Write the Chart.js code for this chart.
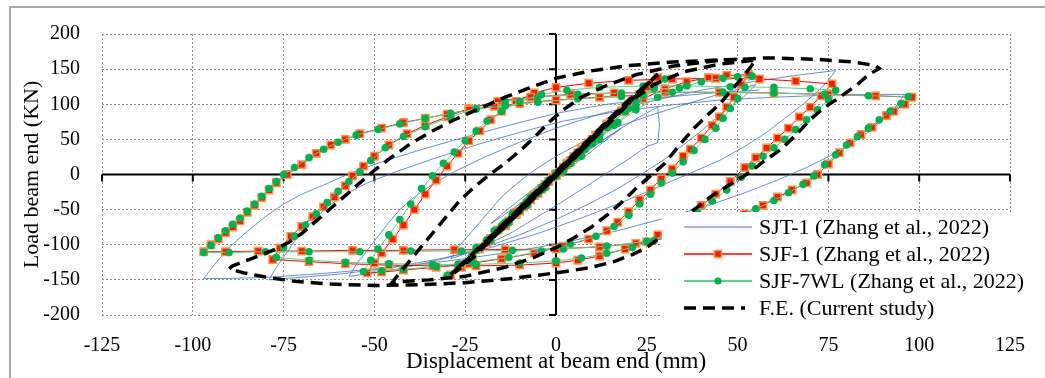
<!DOCTYPE html>
<html>
<head>
<meta charset="utf-8">
<script src="https://cdn.jsdelivr.net/npm/chart.js@4.4.1/dist/chart.umd.min.js"></script>
<style>
  body { margin: 0; background: #fff; }
  canvas { display: block; }
</style>
</head>
<body>
<canvas id="hysteresis" width="1045" height="378"></canvas>
<script>
// axis ticks
const xTicks = [-125, -100, -75, -50, -25, 0, 25, 50, 75, 100, 125];
const yTicks = [-200, -150, -100, -50, 0, 50, 100, 150, 200];

const seriesNames = [
  'SJT-1 (Zhang et al., 2022)',
  'SJF-1 (Zhang et al., 2022)',
  'SJF-7WL (Zhang et al., 2022)',
  'F.E. (Current study)'
];

// SJT-1 test (displacement mm, load kN)
const sjt1 = [
  [0,0],[4,15],[8,30],[6,22],[2,6],[0,-2],[-4,-16],[-8,-31],[-6,-22],[-2,-6],[0,1],
  [5,18],[10,38],[15,56],[18,66],[15,54],[10,34],[5,14],[1,-2],[-5,-22],[-10,-42],[-15,-60],[-18,-70],[-15,-57],[-10,-36],[-5,-16],[0,2],
  [6,24],[12,46],[18,66],[23,82],[28,96],[28.5,70],[28,45],[25,40],[20,22],[14,2],[8,-18],[2,-38],[-5,-60],[-12,-82],[-19,-100],[-25,-113],[-29,-120],
  [-27,-104],[-24,-86],[-21,-68],[-18,-50],[-15,-32],[-11,-14],[-6,6],[0,26],[8,48],[17,68],[27,86],[37,102],[46,116],[55,128],
  [52,112],[48,96],[44,80],[40,62],[35,42],[30,22],[24,2],[17,-20],[9,-42],[0,-64],[-10,-86],[-20,-104],[-31,-120],[-42,-133],[-51,-141],[-57,-145],
  [-55,-128],[-52,-108],[-49,-88],[-46,-68],[-43,-50],[-39,-32],[-34,-14],[-28,4],[-20,24],[-10,46],[0,66],[12,86],[26,104],[40,120],[54,132],[66,141],[77,148],
  [75,134],[72,118],[68,100],[63,80],[58,60],[52,40],[45,20],[37,2],[28,-18],[18,-40],[7,-62],[-5,-84],[-18,-104],[-32,-120],[-46,-133],[-60,-142],[-72,-147],[-79,-150],
  [-77,-132],[-74,-110],[-71,-88],[-67,-66],[-63,-46],[-58,-28],[-52,-12],[-44,4],[-34,22],[-22,42],[-10,60],[2,76],[15,88],[30,98],[45,106],[60,110],[75,113],[88,114],[96,114],
  [94,100],[91,82],[87,64],[82,46],[76,28],[69,10],[61,-8],[52,-26],[42,-44],[30,-62],[17,-80],[3,-96],[-12,-110],[-28,-122],[-45,-132],[-62,-140],[-78,-146],[-90,-148],[-97,-148],
  [-94,-128],[-90,-104],[-85,-81],[-80,-60],[-75,-42],[-70,-28],[-64,-15],[-57.5,0],[-48.5,17],[-38,34],[-26,52],[-13,70],[0,87],[14,100],[30,110],[45,117],[56,120]
];

// SJF-1 test
const sjf1 = [
  [0,0],[3,16],[6,31],[7,36],[5,26],[2,10],[0,1],[-3,-14],[-6,-30],[-7,-36],[-5,-27],[-2,-10],[0,-1],
  [4,20],[8,41],[11,56],[14,70],[11,55],[7,34],[3,14],[0,-1],[-4,-21],[-8,-42],[-11,-57],[-14,-72],[-11,-56],[-7,-35],[-3,-15],[0,0],
  [5,24],[10,50],[14,72],[18,90],[21,104],[18,90],[14,70],[9,45],[4,20],[0,-1],[-5,-26],[-10,-52],[-14,-73],[-18,-92],[-21,-106],[-18,-91],[-13,-66],[-8,-41],[-3,-16],[0,0],
  [5,25],[10,50],[15,75],[19,96],[23,114],[26,128],[28,138],[25,124],[20,100],[15,74],[10,49],[5,24],[1,3],[-4,-20],[-9,-46],[-14,-72],[-19,-97],[-23,-117],[-26,-132],[-29,-143],
  [-26,-128],[-21,-104],[-16,-79],[-11,-54],[-6,-29],[-1,-4],
  [4,18],[9,44],[14,68],[19,90],[24,108],[30,122],[36,132],[42,138],[47,141],[53,142],
  [51,128],[49,110],[47,96],[45,82],[43,70],[40,52],[37,36],[35,26],[32,8],[29,-6],[26,-22],[23,-36],[20,-53],[17,-68],[14,-80],[9,-92],[2,-102],[-6,-112],[-15,-120],[-24,-127],[-33,-132],[-42,-136],[-48,-139],[-52,-140],
  [-50,-126],[-48,-112],[-45,-92],[-42,-72],[-39,-50],[-36,-28],[-33,-8],[-30,12],[-27,30],[-24,48],[-21,62],[-18,78],[-15,90],[-11,104],[-6,116],[0,124],[9,130],[20,134],[32,136],[44,137],[56,136],[66,133],[76,129],
  [73,112],[70,96],[67,82],[64,66],[61,52],[58,38],[55,24],[52,10],[48,-10],[44,-28],[40,-44],[36,-60],[32,-74],[28,-86],[25,-96],[19,-106],[12,-116],[6,-122],[0,-126],[-10,-129],[-22,-130],[-34,-130],[-46,-129],[-58,-127],[-68,-124],[-78,-121],
  [-76,-105],[-73,-88],[-70,-74],[-67,-60],[-64,-46],[-61,-32],[-58,-16],[-56,-2],[-53,12],[-50,26],[-46,42],[-41,58],[-36,70],[-30,82],[-24,94],[-16,104],[-7,110],[4,114],[16,116],[30,117],[45,117],[60,116],[75,114],[88,112],[98,110],
  [96,100],[93,90],[91,84],[87,67],[84,57],[81,45],[78,31],[75,15],[72,0],[69,-12],[65,-22],[61,-32],[57,-44],[52,-56],[46,-68],[39,-80],[31,-90],[22,-98],[12,-103],[0,-106],[-14,-107],[-28,-107],[-42,-108],[-56,-108],[-70,-109],[-82,-109],[-91,-110],[-97,-110],
  [-95,-100],[-93,-92],[-91,-83],[-89,-75],[-87,-66],[-85,-54],[-83,-44],[-81,-33],[-79,-22],[-77,-12],[-74,0],[-70,14],[-66,30],[-62,42],[-58,50],[-54,58],[-48,66],[-42,74],[-36,80],[-30,86],[-24,92],[-17,97],[-10,101],[0,106],[12,110],[24,113]
];

// SJF-7WL test
const sjf7wl = [
  [0,0],[3,15],[6,30],[7.5,36],[5.5,26],[2.5,11],[0,0],[-3,-15],[-6,-30],[-7.5,-37],[-5.5,-27],[-2.5,-12],[0,-1],
  [4,19],[8,39],[12,58],[15,71],[12,56],[8,36],[4,16],[0,-2],[-4,-22],[-8,-42],[-12,-60],[-15,-73],[-12,-58],[-8,-38],[-4,-18],[0,1],
  [5,23],[10,48],[15,72],[19,91],[22,104],[19,90],[14,67],[9,43],[4,19],[0,-2],[-5,-27],[-10,-52],[-15,-76],[-19,-95],[-22,-108],[-19,-93],[-14,-68],[-9,-44],[-4,-20],[0,1],
  [5,24],[10,48],[15,72],[20,94],[24,112],[27,125],[30,136],[27,122],[22,98],[17,74],[12,50],[7,26],[2,4],[-3,-19],[-8,-44],[-13,-69],[-18,-94],[-23,-116],[-27,-132],[-30,-144],
  [-27,-128],[-22,-104],[-17,-80],[-12,-56],[-7,-32],[-2,-8],
  [4,16],[10,44],[16,70],[22,92],[28,110],[34,123],[40,132],[46,137],[50,139],[54,140],
  [52,124],[50,108],[48,94],[46,80],[44,66],[41,50],[38,34],[35,18],[32,2],[29,-12],[26,-28],[23,-42],[20,-58],[16,-74],[11,-88],[4,-99],[-4,-109],[-13,-118],[-23,-125],[-33,-131],[-42,-135],[-48,-137],[-53,-138],
  [-51,-122],[-49,-106],[-46,-86],[-43,-64],[-40,-42],[-37,-20],[-34,-2],[-31,16],[-28,32],[-25,48],[-22,62],[-19,76],[-15,90],[-10,104],[-4,114],[3,120],[12,124],[24,126],[36,126],[48,125],[60,124],[70,122],[77,120],
  [75,106],[72,92],[69,78],[66,64],[63,50],[60,38],[57,26],[54,12],[51,-4],[47,-22],[43,-38],[39,-54],[35,-68],[31,-82],[27,-94],[21,-104],[14,-112],[7,-119],[0,-123],[-10,-126],[-22,-128],[-34,-128],[-46,-127],[-58,-125],[-68,-122],[-77,-118],
  [-75,-104],[-72,-88],[-69,-72],[-66,-56],[-63,-40],[-60,-24],[-57,-10],[-54,4],[-51,20],[-47,38],[-42,54],[-36,68],[-29,82],[-22,94],[-14,104],[-5,110],[6,114],[18,116],[32,117],[46,117],[60,116],[74,114],[86,112],[97,111],
  [95,101],[92,90],[89,78],[86,66],[83,54],[80,42],[77,28],[74,14],[71,-2],[68,-14],[64,-26],[60,-37],[55,-49],[49,-61],[42,-73],[34,-85],[25,-95],[14,-102],[2,-106],[-12,-108],[-26,-109],[-40,-109],[-54,-110],[-68,-110],[-80,-110],[-90,-111],[-97,-111],
  [-95,-101],[-93,-90],[-91,-80],[-89,-71],[-87,-62],[-85,-52],[-83,-42],[-81,-31],[-79,-20],[-77,-10],[-75,0],[-72,10],[-68,24],[-64,36],[-60,46],[-55,56],[-49,64],[-43,72],[-36,80],[-29,87],[-22,93],[-14,98],[-5,103],[6,108],[18,111]
];

// finite element model
const feModel = [
  [0,0],[2.5,13],[5,26],[3,15],[0,-1],[-2.5,-14],[-5,-27],[-3,-16],[0,0],
  [5,26],[10,51],[8,38],[4,18],[0,-2],[-5,-27],[-10,-52],[-8,-39],[-4,-19],[0,1],
  [5,27],[10,53],[15,77],[12,60],[7,34],[2,8],[-3,-18],[-8,-44],[-15,-78],[-12,-61],[-7,-35],[-2,-9],[3,17],
  [8,43],[14,73],[20,101],[16,80],[10,49],[4,19],[-2,-12],[-8,-43],[-14,-74],[-20,-103],[-16,-82],[-10,-51],[-4,-20],[2,12],
  [8,44],[14,76],[20,106],[25,128],[28,142],[24,122],[18,92],[12,61],[6,30],[0,-1],[-6,-32],[-12,-63],[-18,-94],[-23,-119],[-28,-140],
  [-24,-119],[-18,-89],[-12,-58],[-6,-27],[0,4],
  [7,40],[14,75],[21,110],[28,143],[23,117],[16,82],[9,47],[2,12],[-5,-24],[-12,-60],[-19,-96],[-25,-126],[-29,-142],[-23,-113],[-16,-78],[-9,-43],[-2,-8],
  [6,32],[13,68],[20,102],[27,128],[35,146],[45,157],[55,163],[52,142],[48,118],[45,100],[42,86],[38,66],[34,42],[30,16],[26,-2],[22,-20],[18,-40],[14,-58],[10,-74],[5,-90],[0,-104],[-6,-118],[-14,-132],[-25,-145],[-35,-150],[-45,-153],
  [-43,-140],[-39,-115],[-35,-90],[-31,-65],[-27,-40],[-23,-20],[-19,-3],[-14,16],[-9,38],[-5,58],[-2,74],[2,92],[7,110],[14,127],[22,142],[32,154],[44,162],[58,166],[72,164],[82,160],[88,155],[89,151],
  [86,142],[83,128],[80,117],[77,106],[74,96],[70,78],[66,56],[62,36],[57,18],[53,2],[48,-14],[43,-30],[38,-50],[33,-70],[28,-92],[25,-104],[21,-114],[16,-124],[9,-133],[0,-140],[-12,-148],[-25,-154],[-38,-157],[-50,-158],[-62,-156],[-72,-152],[-80,-146],[-86,-140],[-90,-134],[-89,-130],
  [-86,-124],[-82,-116],[-78,-108],[-74,-98],[-70,-84],[-66,-66],[-62,-48],[-58,-30],[-54,-12],[-50,6],[-46,22],[-40,44],[-34,62],[-28,78],[-21,94],[-14,110],[-7,124],[0,137],[9,147],[20,155],[32,160],[45,163],[56,165]
];

const serif = '"Liberation Serif", "Times New Roman", serif';

// grey frame round the whole figure
const frame = {
  id: 'frame',
  beforeDraw(chart) {
    const ctx = chart.ctx;
    ctx.save();
    ctx.strokeStyle = '#a6a6a6';
    ctx.lineWidth = 2;
    ctx.strokeRect(10, 7, 1060, 400);
    ctx.restore();
  }
};

// solid axes through the origin, with tick marks
const zeroAxes = {
  id: 'zeroAxes',
  beforeDatasetsDraw(chart) {
    const { ctx, scales: { x, y } } = chart;
    const x0 = x.getPixelForValue(0);
    const y0 = y.getPixelForValue(0);
    ctx.save();
    ctx.strokeStyle = '#000';
    ctx.lineWidth = 2;
    ctx.beginPath();
    ctx.moveTo(x.left, y0);
    ctx.lineTo(x.right, y0);
    xTicks.forEach(v => {
      const px = x.getPixelForValue(v);
      ctx.moveTo(px, y0);
      ctx.lineTo(px, y0 + 7);
    });
    ctx.moveTo(x0, y.top);
    ctx.lineTo(x0, y.bottom);
    yTicks.forEach(v => {
      const py = y.getPixelForValue(v);
      ctx.moveTo(x0 - 7, py);
      ctx.lineTo(x0, py);
    });
    ctx.stroke();
    ctx.restore();
  }
};

// legend box sitting over the lower right of the plot
const boxLegend = {
  id: 'boxLegend',
  afterDraw(chart) {
    const ctx = chart.ctx;
    const left = 662, top = 212, sx0 = 684, sx1 = 752, tx = 759;
    const rows = [227, 254, 281, 308];
    ctx.save();
    ctx.fillStyle = '#fff';
    ctx.fillRect(left, top, 372, 113);
    chart.data.datasets.forEach((ds, i) => {
      const yy = rows[i];
      ctx.save();
      ctx.strokeStyle = ds.borderColor;
      ctx.lineWidth = i === 3 ? 3.5 : (i === 2 ? 2 : (i === 1 ? 1.3 : 1.2));
      if (ds.borderDash) ctx.setLineDash(ds.borderDash);
      ctx.beginPath();
      ctx.moveTo(sx0, yy);
      ctx.lineTo(i === 3 ? 745 : sx1, yy);
      ctx.stroke();
      ctx.restore();
      const mx = (sx0 + sx1) / 2;
      if (i === 1) {
        ctx.fillStyle = ds.pointBackgroundColor;
        ctx.strokeStyle = ds.pointBorderColor;
        ctx.lineWidth = 1.5;
        ctx.fillRect(mx - 3.5, yy - 3.5, 7, 7);
        ctx.strokeRect(mx - 3.5, yy - 3.5, 7, 7);
      } else if (i === 2) {
        ctx.fillStyle = ds.pointBackgroundColor;
        ctx.beginPath();
        ctx.arc(mx, yy, 3.6, 0, Math.PI * 2);
        ctx.fill();
      }
      ctx.fillStyle = '#000';
      ctx.font = '22px ' + serif;
      ctx.textBaseline = 'middle';
      ctx.textAlign = 'left';
      ctx.fillText(ds.label, tx, yy + 1);
    });
    ctx.restore();
  }
};

const ctx = document.getElementById('hysteresis');

new Chart(ctx, {
  type: 'scatter',
  data: {
    datasets: [
      {
        label: seriesNames[0],
        data: sjt1,
        showLine: true,
        borderColor: '#4472c4',
        borderWidth: 0.8,
        pointRadius: 0,
        order: 4
      },
      {
        label: seriesNames[1],
        data: sjf1,
        showLine: true,
        borderColor: '#ff0000',
        borderWidth: 1,
        pointStyle: 'rect',
        pointRadius: 5.2,
        pointBackgroundColor: '#ff1a00',
        pointBorderColor: '#f79646',
        pointBorderWidth: 1.5,
        order: 3
      },
      {
        label: seriesNames[2],
        data: sjf7wl,
        showLine: true,
        borderColor: '#5fcf8c',
        borderWidth: 1,
        pointStyle: 'circle',
        pointRadius: 3.8,
        pointBackgroundColor: '#00b050',
        pointBorderColor: '#00b050',
        pointBorderWidth: 0,
        order: 2
      },
      {
        label: seriesNames[3],
        data: feModel,
        showLine: true,
        borderColor: '#000',
        borderWidth: 3.5,
        borderDash: [12, 7],
        pointRadius: 0,
        order: 1
      }
    ]
  },
  options: {
    responsive: false,
    animation: false,
    layout: { padding: { left: 10, right: 35, top: 18, bottom: 0 } },
    plugins: {
      legend: { display: false },
      tooltip: { enabled: false }
    },
    scales: {
      x: {
        type: 'linear',
        min: -125,
        max: 125,
        afterBuildTicks: s => { s.ticks = xTicks.map(v => ({ value: v })); },
        afterFit: s => { s.height = 63; },
        grid: { color: '#8c8c8c', lineWidth: 1, drawTicks: false },
        border: { display: false, dash: [2, 2] },
        ticks: { color: '#000', padding: 19, font: { family: serif, size: 20 } },
        title: {
          display: true,
          text: 'Displacement at beam end (mm)',
          color: '#000',
          font: { family: serif, size: 23 },
          padding: { top: 0, bottom: 2 }
        }
      },
      y: {
        type: 'linear',
        min: -200,
        max: 200,
        afterBuildTicks: s => { s.ticks = yTicks.map(v => ({ value: v })); },
        afterFit: s => { s.width = 92; },
        grid: { color: '#8c8c8c', lineWidth: 1, drawTicks: false },
        border: { display: false, dash: [2, 2] },
        ticks: { color: '#000', padding: 22, font: { family: serif, size: 20 } },
        title: {
          display: true,
          text: 'Load beam end (KN)',
          color: '#000',
          font: { family: serif, size: 22 },
          padding: { top: 9, bottom: 0 }
        }
      }
    }
  },
  plugins: [frame, zeroAxes, boxLegend]
});
</script>
</body>
</html>
